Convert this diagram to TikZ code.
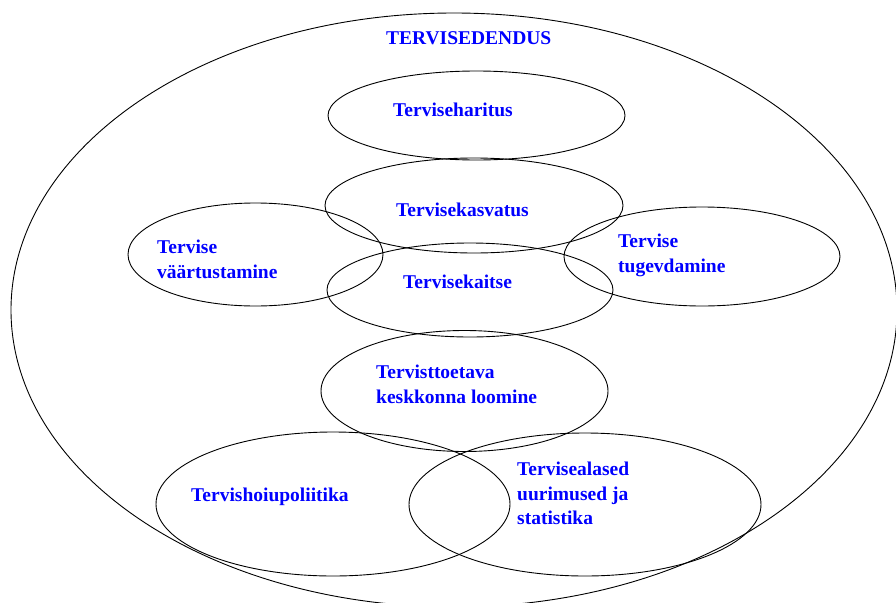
\documentclass[tikz,border=0pt]{standalone}
\usepackage{fontspec}
\setmainfont{Liberation Serif}
\usetikzlibrary{shapes.geometric}
\tikzset{
  ell/.style={draw=black, line width=0.9pt, ellipse, inner sep=0pt},
  lbl/.style={anchor=base west, inner sep=0pt, text=blue, font=\fontsize{19.5}{25}\selectfont\bfseries},
}
\begin{document}
\begin{tikzpicture}[x=1pt,y=-1pt]
\useasboundingbox (0,0) rectangle (896,602);
\begin{scope}
\clip (0,0) rectangle (896,602);
\node[ell, minimum width=886pt, minimum height=594pt] (outer) at (454,310) {};
\end{scope}
\node[ell, minimum width=297pt, minimum height=89pt] (harit) at (476.5,115.5) {};
\node[ell, minimum width=298pt, minimum height=95pt] (kasv) at (474,205.5) {};
\node[ell, minimum width=286pt, minimum height=94pt] (kaitse) at (470,290) {};
\node[ell, minimum width=255pt, minimum height=103pt] (vaart) at (255.5,254.5) {};
\node[ell, minimum width=276pt, minimum height=99pt] (tugev) at (702,256.5) {};
\node[ell, minimum width=287pt, minimum height=121pt] (keskk) at (464.5,391) {};
\node[ell, minimum width=354pt, minimum height=144pt] (poliit) at (333,504) {};
\node[ell, minimum width=352pt, minimum height=143pt] (uurim) at (585,504.5) {};
\node[lbl] (t0) at (386,45) {TERVISEDENDUS};
\node[lbl] (t1) at (393,116) {Terviseharitus};
\node[lbl] (t2) at (396,216) {Tervisekasvatus};
\node[lbl] (t3) at (403,288) {Tervisekaitse};
\node[lbl] (t4a) at (157,253) {Tervise};
\node[lbl] (t4b) at (157,278) {väärtustamine};
\node[lbl] (t5a) at (618,247) {Tervise};
\node[lbl] (t5b) at (618,272) {tugevdamine};
\node[lbl] (t6a) at (376,378) {Tervisttoetava};
\node[lbl] (t6b) at (376,403) {keskkonna loomine};
\node[lbl] (t7) at (191,501) {Tervishoiupoliitika};
\node[lbl] (t8a) at (517,475) {Tervisealased};
\node[lbl] (t8b) at (517,500) {uurimused ja};
\node[lbl] (t8c) at (517,524) {statistika};
\end{tikzpicture}
\end{document}
